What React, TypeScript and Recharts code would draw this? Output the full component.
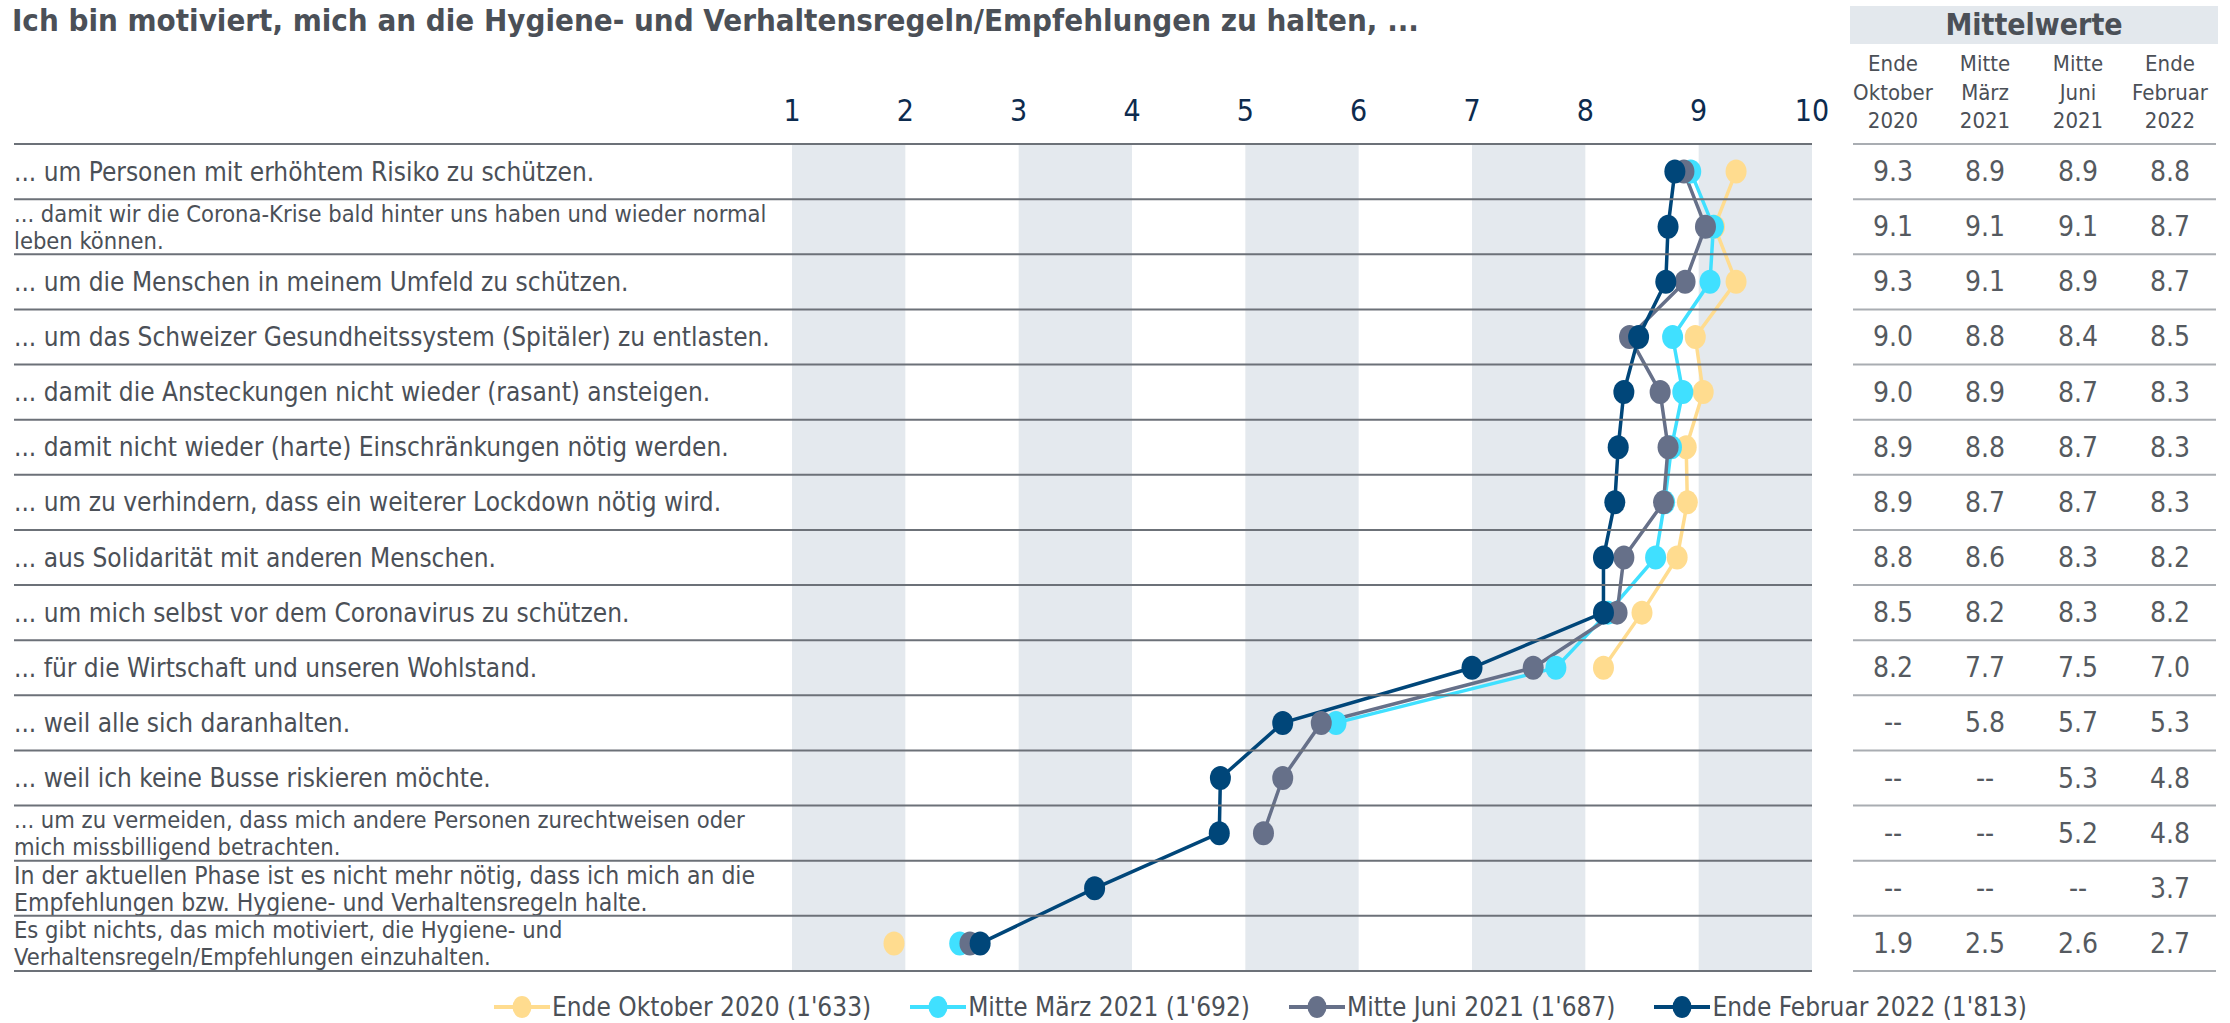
import React from 'react';
import { LineChart, Line, XAxis, YAxis, ReferenceArea, Legend } from 'recharts';

// row labels (one entry per line of text)
const ROW_LABELS: string[][] = [
  ['... um Personen mit erhöhtem Risiko zu schützen.'],
  ['... damit wir die Corona-Krise bald hinter uns haben und wieder normal', 'leben können.'],
  ['... um die Menschen in meinem Umfeld zu schützen.'],
  ['... um das Schweizer Gesundheitssystem (Spitäler) zu entlasten.'],
  ['... damit die Ansteckungen nicht wieder (rasant) ansteigen.'],
  ['... damit nicht wieder (harte) Einschränkungen nötig werden.'],
  ['... um zu verhindern, dass ein weiterer Lockdown nötig wird.'],
  ['... aus Solidarität mit anderen Menschen.'],
  ['... um mich selbst vor dem Coronavirus zu schützen.'],
  ['... für die Wirtschaft und unseren Wohlstand.'],
  ['... weil alle sich daranhalten.'],
  ['... weil ich keine Busse riskieren möchte.'],
  ['... um zu vermeiden, dass mich andere Personen zurechtweisen oder', 'mich missbilligend betrachten.'],
  ['In der aktuellen Phase ist es nicht mehr nötig, dass ich mich an die', 'Empfehlungen bzw. Hygiene- und Verhaltensregeln halte.'],
  ['Es gibt nichts, das mich motiviert, die Hygiene- und', 'Verhaltensregeln/Empfehlungen einzuhalten.'],
];

const OKT_2020 = [9.33, 9.14, 9.33, 8.97, 9.04, 8.89, 8.9, 8.81, 8.5, 8.16, null, null, null, null, 1.9];
const MAERZ_2021 = [8.93, 9.13, 9.1, 8.77, 8.86, 8.76, 8.7, 8.62, 8.2, 7.74, 5.8, null, null, null, 2.48];
const JUNI_2021 = [8.87, 9.06, 8.88, 8.39, 8.66, 8.73, 8.69, 8.34, 8.28, 7.54, 5.67, 5.33, 5.16, null, 2.57];
const FEB_2022 = [8.79, 8.73, 8.71, 8.47, 8.34, 8.29, 8.26, 8.16, 8.16, 7.0, 5.33, 4.78, 4.77, 3.67, 2.66];

const SCALE_TICKS = [1, 2, 3, 4, 5, 6, 7, 8, 9, 10];
const SHADED_BANDS = [[1, 2], [3, 4], [5, 6], [7, 8], [9, 10]];

const SERIES = [
  { key: 'okt20', name: "Ende Oktober 2020 (1'633)", head: ['Ende', 'Oktober', '2020'], color: '#FFDC8F', values: OKT_2020 },
  { key: 'mar21', name: "Mitte März 2021 (1'692)", head: ['Mitte', 'März', '2021'], color: '#40E0FF', values: MAERZ_2021 },
  { key: 'jun21', name: "Mitte Juni 2021 (1'687)", head: ['Mitte', 'Juni', '2021'], color: '#667089', values: JUNI_2021 },
  { key: 'feb22', name: "Ende Februar 2022 (1'813)", head: ['Ende', 'Februar', '2022'], color: '#004679', values: FEB_2022 },
];

// split each series into runs of consecutive answers, so gaps stay gaps
const SEGMENTS = SERIES.flatMap(s => {
  const runs: { key: string; color: string; rows: number[] }[] = [];
  let cur: number[] = [];
  s.values.forEach((v, i) => {
    if (v == null) {
      if (cur.length) runs.push({ key: `${s.key}_${runs.length}`, color: s.color, rows: cur });
      cur = [];
    } else cur.push(i);
  });
  if (cur.length) runs.push({ key: `${s.key}_${runs.length}`, color: s.color, rows: cur });
  return runs.map(r => ({ ...r, values: s.values }));
});

const data = ROW_LABELS.map((_, i) => {
  const row: Record<string, any> = { id: String(i) };
  SEGMENTS.forEach(seg => { if (seg.rows.includes(i)) row[seg.key] = seg.values[i]; });
  return row;
});

const FONT = "'DejaVu Sans Condensed', 'Liberation Sans Narrow', 'DejaVu Sans', sans-serif";
const TEXT = '#4b5057';
const W = 2230;
const H = 1023;
const PLOT_LEFT = 792;
const PLOT_RIGHT = 1812;
const PLOT_TOP = 144;
const PLOT_BOTTOM = 971;
const ROW_H = (PLOT_BOTTOM - PLOT_TOP) / ROW_LABELS.length;
const TABLE_LEFT = 1853;
const TABLE_RIGHT = 2216;
const TABLE_COLS = [1893, 1985, 2078, 2170];
const TWO_LINE_SIZE: Record<number, number> = { 1: 23.5, 12: 23.5, 13: 24.5, 14: 23.5 };

function ScaleTick({ x, payload }: any) {
  return (
    <text x={x} y={110} textAnchor="middle" dominantBaseline="central" fontSize={30} fill="#0d2b4e" fontFamily={FONT}>
      {payload.value}
    </text>
  );
}

function RowLabel({ y, payload }: any) {
  const i = Number(payload.value);
  const lines = ROW_LABELS[i];
  const top = y - ROW_H / 2;
  const two = lines.length > 1;
  return (
    <g>
      <line x1={14} x2={PLOT_RIGHT} y1={top} y2={top} stroke="#6c7178" strokeWidth={2} />
      {i === ROW_LABELS.length - 1 && (
        <line x1={14} x2={PLOT_RIGHT} y1={top + ROW_H} y2={top + ROW_H} stroke="#6c7178" strokeWidth={2} />
      )}
      {lines.map((t, k) => (
        <text key={k} x={14} y={two ? y + (k === 0 ? -13 : 14) : y} dominantBaseline="central"
          fontSize={two ? TWO_LINE_SIZE[i] : 26} fill={TEXT} fontFamily={FONT}>
          {t}
        </text>
      ))}
    </g>
  );
}

function TableRow({ y, payload }: any) {
  const i = Number(payload.value);
  const top = y - ROW_H / 2;
  return (
    <g>
      <line x1={TABLE_LEFT} x2={TABLE_RIGHT} y1={top} y2={top} stroke="#a9adb2" strokeWidth={2} />
      {i === ROW_LABELS.length - 1 && (
        <line x1={TABLE_LEFT} x2={TABLE_RIGHT} y1={top + ROW_H} y2={top + ROW_H} stroke="#a9adb2" strokeWidth={2} />
      )}
      {SERIES.map((s, k) => {
        const v = s.values[i];
        return (
          <text key={s.key} x={TABLE_COLS[k]} y={y} textAnchor="middle" dominantBaseline="central"
            fontSize={28} fill="#555a60" fontFamily={FONT}>
            {v == null ? '--' : v.toFixed(1)}
          </text>
        );
      })}
    </g>
  );
}

function Dot({ cx, cy, fill }: any) {
  if (cx == null || cy == null) return null;
  return <ellipse cx={cx} cy={cy} rx={10.5} ry={12} fill={fill} />;
}

function LegendRow() {
  return (
    <div style={{ display: 'flex', alignItems: 'center', gap: 39, fontFamily: FONT, fontSize: 26, color: TEXT }}>
      {SERIES.map(s => (
        <div key={s.key} style={{ display: 'flex', alignItems: 'center' }}>
          <svg width={56} height={26} style={{ marginRight: 2 }}>
            <line x1={0} x2={56} y1={13} y2={13} stroke={s.color} strokeWidth={4} />
            <ellipse cx={28} cy={13} rx={9.5} ry={11} fill={s.color} />
          </svg>
          <span>{s.name}</span>
        </div>
      ))}
    </div>
  );
}

export default function App() {
  return (
    <div style={{ position: 'absolute', left: 0, top: 0, width: W, height: H, background: '#fff', fontFamily: FONT }}>
      <div style={{ position: 'absolute', left: 12, top: 2, fontSize: 31, fontWeight: 'bold', color: TEXT, whiteSpace: 'nowrap' }}>
        Ich bin motiviert, mich an die Hygiene- und Verhaltensregeln/Empfehlungen zu halten, ...
      </div>
      <div style={{ position: 'absolute', left: 1850, top: 6, width: 368, height: 38, background: '#E3E8ED', fontSize: 30, fontWeight: 'bold', color: TEXT, textAlign: 'center', lineHeight: '38px' }}>
        Mittelwerte
      </div>
      {SERIES.map((s, k) => (
        <div key={s.key} style={{ position: 'absolute', left: TABLE_COLS[k] - 60, top: 50, width: 120, textAlign: 'center', fontSize: 22, lineHeight: '28.5px', color: TEXT }}>
          {s.head.map(h => <div key={h}>{h}</div>)}
        </div>
      ))}
      <LineChart width={W} height={H} data={data} layout="vertical"
        margin={{ top: PLOT_TOP - 60, right: 0, bottom: H - PLOT_BOTTOM, left: 0 }}>
        <YAxis yAxisId="bands" type="number" domain={[0, 1]} hide />
        {SHADED_BANDS.map(([a, b]) => (
          <ReferenceArea key={a} x1={a} x2={b} yAxisId="bands" fill="#E4E9EE" fillOpacity={1} stroke="none" />
        ))}
        <XAxis type="number" domain={[1, 10]} ticks={SCALE_TICKS} orientation="top" height={60}
          axisLine={false} tickLine={false} interval={0} tick={(p: any) => <ScaleTick {...p} />} />
        <YAxis yAxisId="rows" type="category" dataKey="id" width={PLOT_LEFT} axisLine={false} tickLine={false}
          padding={{ top: ROW_H / 2, bottom: ROW_H / 2 }} interval={0} tick={(p: any) => <RowLabel {...p} />} />
        <YAxis yAxisId="table" orientation="right" type="category" dataKey="id" width={W - PLOT_RIGHT}
          padding={{ top: ROW_H / 2, bottom: ROW_H / 2 }} axisLine={false} tickLine={false} interval={0}
          tick={(p: any) => <TableRow {...p} />} />
        {SEGMENTS.map(seg => (
          <Line key={seg.key} yAxisId="rows" dataKey={seg.key} stroke={seg.color} strokeWidth={3.5}
            dot={(p: any) => <Dot key={p.index} {...p} fill={seg.color} />} activeDot={false}
            legendType="none" isAnimationActive={false} />
        ))}
        <Legend layout="horizontal" verticalAlign="middle" align="center"
          wrapperStyle={{ top: 992, left: 494, width: 1700 }} content={() => <LegendRow />} />
      </LineChart>
    </div>
  );
}
